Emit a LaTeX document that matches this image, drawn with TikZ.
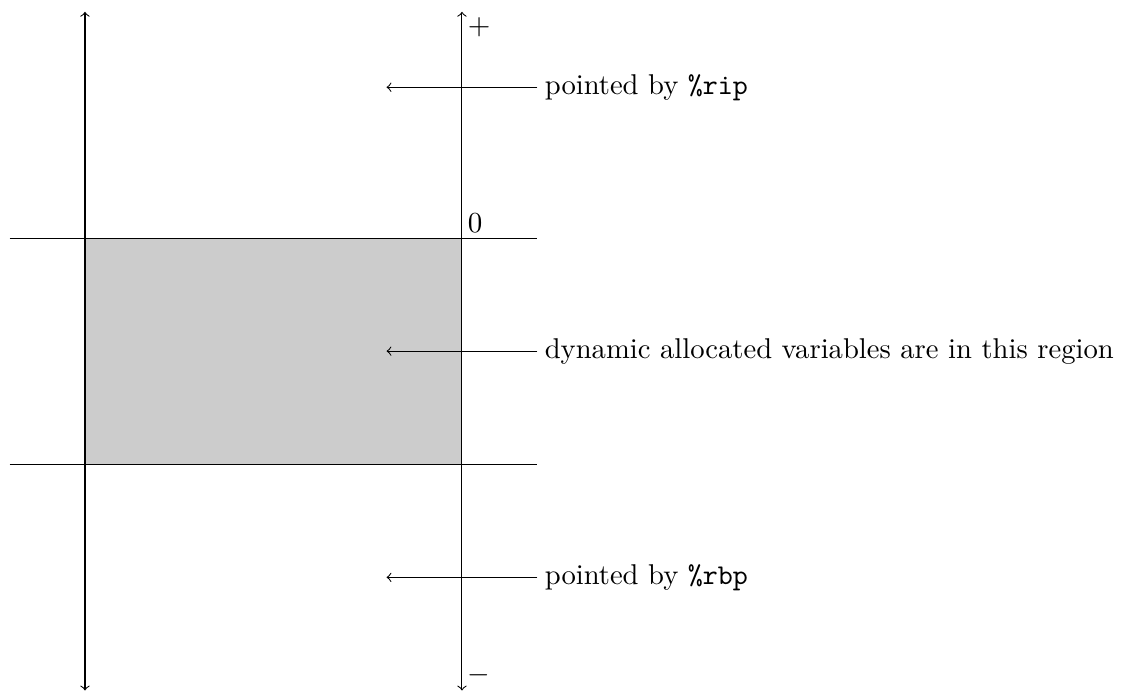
\documentclass[tikz,border=0pt]{standalone}
\usepackage{tikz}

\begin{document}
\begin{tikzpicture}[every node/.style={font=\fontsize{10.8}{13}\selectfont}]
  \useasboundingbox (-1.127,-5.995) rectangle (13.86,3.157);
  \fill[black!20] (0,0) rectangle (5,-3);
  \draw (-1,0) -- (6,0);
  \draw (-1,-3) -- (6,-3);
  \coordinate (lefttop) at (0,3);
  \coordinate (leftbot) at (0,-6);
  \coordinate (righttop) at (5,3);
  \coordinate (rightbot) at (5,-6);
  \draw[<->] (leftbot) -- (lefttop);
  \draw[<->] (rightbot) -- (righttop);
  \node[anchor=north west, inner sep=2pt] (plus) at (righttop) {$+$};
  \node[anchor=south west, inner sep=2pt] (minus) at (rightbot) {$-$};
  \node[anchor=south west, inner sep=2pt] (zero) at (5,0) {$0$};
  \node[anchor=west, inner sep=2.6pt] (rip) at (6,2) {pointed by \texttt{\%rip}};
  \node[anchor=west, inner sep=2.6pt] (dyn) at (6,-1.5) {dynamic allocated variables are in this region};
  \node[anchor=west, inner sep=2.6pt] (rbp) at (6,-4.5) {pointed by \texttt{\%rbp}};
  \coordinate (ripend) at (4,2);
  \coordinate (dynend) at (4,-1.5);
  \coordinate (rbpend) at (4,-4.5);
  \draw[->] (rip.west) -- (ripend);
  \draw[->] (dyn.west) -- (dynend);
  \draw[->] (rbp.west) -- (rbpend);
\end{tikzpicture}
\end{document}
